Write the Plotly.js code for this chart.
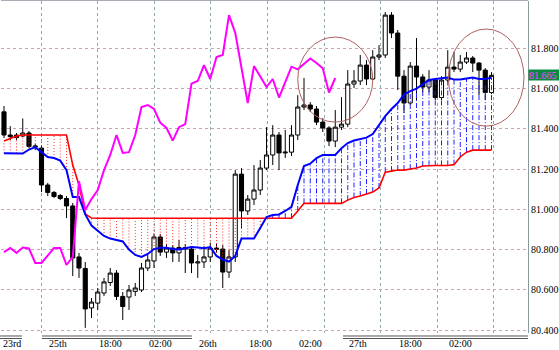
<!DOCTYPE html>
<html><head><meta charset="utf-8">
<script src="https://cdn.plot.ly/plotly-3.0.1.min.js"></script>
<style>html,body{margin:0;padding:0;background:#fff;overflow:hidden}#chart{width:559px;height:350px}</style>
</head><body><div id="chart"></div>
<script>
// ---- data (hourly bars) ----
const openP = [81.484,81.369,81.369,81.364,81.379,81.309,81.304,81.121,81.084,81.069,
81.054,81.017,80.764,80.707,80.511,80.535,80.585,80.637,80.684,80.568,
80.565,80.593,80.600,80.709,80.744,80.863,80.788,80.808,80.784,80.811,
80.803,80.734,80.739,80.764,80.808,80.803,80.689,80.764,81.175,80.992,
81.051,81.096,81.205,81.270,81.369,81.280,81.284,81.369,81.508,81.518,
81.498,81.433,81.404,81.339,81.408,81.423,81.622,81.637,81.716,81.647,
81.756,81.766,81.964,81.875,81.661,81.528,81.711,81.657,81.607,81.642,
81.555,81.642,81.706,81.696,81.731,81.751,81.726,81.691,81.580];
const highP = [81.513,81.413,81.379,81.451,81.389,81.324,81.319,81.131,81.091,81.076,
81.066,81.032,80.784,80.739,80.560,80.610,80.660,80.709,80.699,80.590,
80.625,80.635,80.734,80.774,80.878,80.878,80.828,80.823,80.848,80.828,
80.818,80.774,80.818,80.833,80.828,80.823,80.798,81.195,81.205,81.071,
81.220,81.245,81.408,81.418,81.384,81.394,81.418,81.567,81.652,81.532,
81.513,81.453,81.413,81.493,81.557,81.691,81.691,81.766,81.741,81.790,
81.815,81.979,81.979,81.890,81.691,81.731,81.850,81.671,81.691,81.652,
81.661,81.790,81.781,81.766,81.781,81.761,81.731,81.701,81.681];
const lowP = [81.354,81.344,81.344,81.359,81.304,81.294,81.086,81.066,81.056,81.046,
80.957,80.669,80.660,80.412,80.461,80.501,80.570,80.620,80.550,80.451,
80.501,80.570,80.590,80.694,80.709,80.769,80.759,80.739,80.739,80.684,
80.684,80.660,80.709,80.739,80.788,80.610,80.660,80.739,80.907,80.972,
81.022,81.071,81.195,81.220,81.195,81.255,81.265,81.344,81.493,81.483,
81.418,81.384,81.314,81.309,81.394,81.408,81.602,81.617,81.617,81.642,
81.741,81.751,81.850,81.592,81.478,81.518,81.542,81.582,81.582,81.542,
81.542,81.632,81.681,81.681,81.721,81.681,81.567,81.542,81.572];
const closeP = [81.369,81.361,81.356,81.379,81.312,81.314,81.121,81.084,81.064,81.054,
81.017,80.759,80.709,80.506,80.540,80.590,80.640,80.684,80.568,80.518,
80.600,80.610,80.709,80.749,80.863,80.788,80.808,80.784,80.811,80.803,
80.734,80.739,80.764,80.808,80.803,80.689,80.764,81.175,80.992,81.051,
81.096,81.205,81.270,81.369,81.280,81.284,81.369,81.508,81.518,81.498,
81.433,81.404,81.339,81.408,81.423,81.622,81.637,81.716,81.647,81.756,
81.766,81.964,81.875,81.661,81.528,81.711,81.657,81.607,81.642,81.555,
81.642,81.706,81.696,81.731,81.751,81.726,81.691,81.580,81.665];
// blue line (span A)
const spanA = [81.278,81.278,81.278,81.277,81.297,81.309,81.284,81.260,81.255,81.242,
81.195,81.061,81.061,80.975,80.920,80.892,80.868,80.855,80.848,80.841,
80.801,80.774,80.764,80.779,80.803,80.810,80.810,80.803,80.801,80.808,
80.813,80.811,80.807,80.813,80.769,80.751,80.741,80.769,80.856,80.856,
80.856,80.908,80.962,80.972,80.975,80.992,81.013,81.121,81.215,81.227,
81.255,81.270,81.270,81.270,81.304,81.329,81.342,81.349,81.356,81.374,
81.418,81.463,81.498,81.528,81.570,81.587,81.599,81.622,81.642,81.647,
81.650,81.654,81.644,81.644,81.649,81.654,81.647,81.647,81.653];
// red line (span B)
const spanB = [81.339,81.351,81.364,81.369,81.369,81.369,81.369,81.369,81.369,81.369,
81.369,81.220,81.121,80.977,80.957,80.956,80.956,80.956,80.956,80.956,
80.956,80.956,80.956,80.956,80.956,80.956,80.956,80.956,80.956,80.956,
80.956,80.956,80.956,80.956,80.956,80.956,80.956,80.956,80.956,80.956,
80.956,80.956,80.956,80.956,80.956,80.956,80.956,80.992,81.030,81.030,
81.030,81.030,81.030,81.030,81.030,81.046,81.059,81.066,81.076,81.086,
81.106,81.185,81.190,81.195,81.195,81.200,81.205,81.215,81.218,81.218,
81.218,81.218,81.222,81.260,81.284,81.294,81.294,81.294,81.294];
// magenta lagging line
const chikou = [80.788,80.808,80.784,80.811,80.806,80.734,80.734,80.769,80.808,80.808,
80.724,80.764,81.140,80.997,81.051,81.096,81.195,81.270,81.369,81.280,
81.284,81.369,81.508,81.518,81.498,81.430,81.404,81.341,81.408,81.423,
81.624,81.637,81.716,81.647,81.756,81.766,81.964,81.876,81.701,81.528,
81.711,81.657,81.607,81.647,81.555,81.632,81.708,81.695,81.721,81.749,
81.726,81.700,81.580,81.652];
const timeLabels = ['23rd','25th','18:00','02:00','26th','18:00','02:00','27th','18:00','02:00'];
const timeLabelBars = [-0.45, 7, 15, 23, 31, 39, 47, 55, 63, 71];
const gridBars = [5.95, 15.0, 24.05, 33.1, 42.2, 51.2, 60.2, 69.3, 78.25];
const priceTicks = [80.4, 80.6, 80.8, 81.0, 81.2, 81.4, 81.6, 81.8];
const lastPrice = 81.665;

// ---- build chart ----
const bar = openP.map((_, i) => i);
const xRange = [-0.48, 83.84];
const yRange = [80.3866, 82.034];

const redHX = [], redHY = [], blueHX = [], blueHY = [];
for (let i = 0; i < bar.length; i++) {
  if (spanB[i] > spanA[i]) { redHX.push(bar[i], bar[i], null); redHY.push(spanA[i], spanB[i], null); }
  else if (spanA[i] > spanB[i]) { blueHX.push(bar[i], bar[i], null); blueHY.push(spanB[i], spanA[i], null); }
}

const FONT = 'Liberation Serif, Times New Roman, serif';
const traces = [
  { type: 'candlestick', x: bar, open: openP, high: highP, low: lowP, close: closeP,
    increasing: { line: { color: '#000', width: 1 }, fillcolor: '#ffffff' },
    decreasing: { line: { color: '#000', width: 1 }, fillcolor: '#000000' },
    whiskerwidth: 0, hoverinfo: 'none', showlegend: false },
  { type: 'scatter', mode: 'lines', x: redHX, y: redHY, connectgaps: false,
    line: { color: '#ff3030', width: 1, dash: '1px,2px' }, hoverinfo: 'none' },
  { type: 'scatter', mode: 'lines', x: blueHX, y: blueHY, connectgaps: false,
    line: { color: '#2020ff', width: 1, dash: '5px,2px,1px,2px' }, hoverinfo: 'none' },
  { type: 'scatter', mode: 'lines', x: bar, y: spanB, line: { color: '#ff0000', width: 1.6 }, hoverinfo: 'none' },
  { type: 'scatter', mode: 'lines', x: bar, y: spanA, line: { color: '#0000ff', width: 2 }, hoverinfo: 'none' },
  { type: 'scatter', mode: 'lines', x: bar.slice(0, chikou.length), y: chikou, line: { color: '#ff00ff', width: 2 }, hoverinfo: 'none' }
];

const toPaperX = b => (b - xRange[0]) / (xRange[1] - xRange[0]);
const annotations = timeLabels.map((t, k) => ({
  text: t, xref: 'paper', yref: 'paper', x: toPaperX(timeLabelBars[k]), y: -0.032,
  xanchor: 'left', yanchor: 'middle', showarrow: false, xshift: k === 0 ? 0 : -1,
  font: { family: FONT, size: 10, color: '#000' }
}));
annotations.push({
  text: lastPrice.toFixed(3), xref: 'paper', yref: 'y', x: 1, y: lastPrice,
  xanchor: 'left', yanchor: 'middle', showarrow: false, align: 'left',
  bgcolor: '#0a8a40', borderpad: 0, width: 31, height: 10,
  font: { family: FONT, size: 10, color: '#ff40ff' }
});

const sepLine = (x0, x1, y) => ({ type: 'line', xref: 'paper', yref: 'paper', x0, x1, y0: y, y1: y,
  line: { color: '#555', width: 1 } });
const shapes = [
  { type: 'circle', xref: 'x', yref: 'y', x0: 47.0, x1: 59.0, y0: 81.433, y1: 81.855,
    line: { color: '#b06060', width: 1 } },
  { type: 'circle', xref: 'x', yref: 'y', x0: 71.1, x1: 83.2, y0: 81.413, y1: 81.895,
    line: { color: '#b06060', width: 1 } },
  sepLine(-0.002, 0.0398, -0.009), sepLine(-0.002, 0.0398, -0.0166),
  sepLine(0.0778, 0.3624, -0.009), sepLine(0.0778, 0.3624, -0.0166),
  sepLine(0.649, 1.0, -0.009), sepLine(0.649, 1.0, -0.0166),
  { type: 'line', xref: 'paper', yref: 'paper', x0: 0, x1: 1, y0: 1.002, y1: 1.002,
    line: { color: '#9a9aa8', width: 1 } }
];

const layout = {
  width: 559, height: 350,
  margin: { l: 1, r: 31, t: 1, b: 17, pad: 0 },
  paper_bgcolor: '#ffffff', plot_bgcolor: '#ffffff',
  showlegend: false, boxgap: 0.06, dragmode: false,
  font: { family: FONT, size: 10, color: '#000' },
  xaxis: { range: xRange, rangeslider: { visible: false }, tickvals: gridBars, showticklabels: false,
    ticks: '', showgrid: true, gridcolor: '#8fa9ad', griddash: 'dot', gridwidth: 1,
    zeroline: false, showline: false, fixedrange: true },
  yaxis: { side: 'right', range: yRange, tickvals: priceTicks, ticktext: priceTicks.map(v => v.toFixed(3)),
    showgrid: true, gridcolor: '#c9a3b4', griddash: 'dot', gridwidth: 1, zeroline: false,
    showline: true, linecolor: '#8a9c9c', linewidth: 1, ticks: '',
    tickfont: { family: FONT, size: 10, color: '#000' }, fixedrange: true },
  shapes, annotations
};

Plotly.newPlot('chart', traces, layout, { staticPlot: true, displayModeBar: false });
</script></body></html>
